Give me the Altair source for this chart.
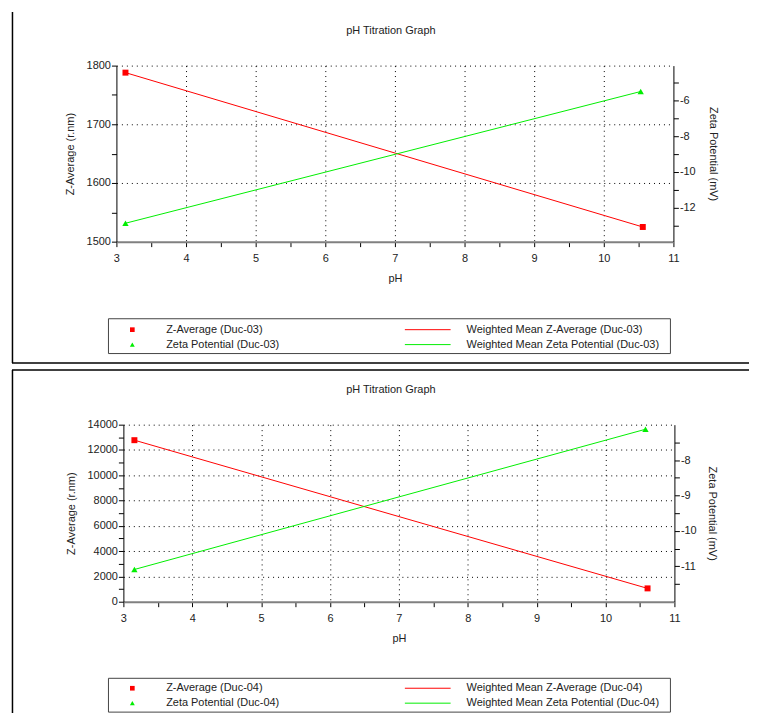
import altair as alt
import pandas as pd

# ---------------- data ----------------
series_names = ["Z-Average", "Zeta Potential"]
ph_ticks = [3, 3.5, 4, 4.5, 5, 5.5, 6, 6.5, 7, 7.5, 8, 8.5, 9, 9.5, 10, 10.5, 11]
chart_title = "pH Titration Graph"

# Duc-03
d03_z_ph = [3.13, 10.56]
d03_z = [1788, 1525]
d03_zeta_ph = [3.13, 10.53]
d03_zeta = [-12.87, -5.5]
d03_z_ticks = [1500, 1550, 1600, 1650, 1700, 1750, 1800]
d03_zeta_ticks = [-13, -12, -11, -10, -9, -8, -7, -6, -5]
d03_legend = ["Z-Average (Duc-03)", "Zeta Potential (Duc-03)",
              "Weighted Mean Z-Average (Duc-03)", "Weighted Mean Zeta Potential (Duc-03)"]

# Duc-04
d04_z_ph = [3.16, 10.61]
d04_z = [12773, 1054]
d04_zeta_ph = [3.16, 10.58]
d04_zeta = [-11.09, -7.13]
d04_z_ticks = [0, 1000, 2000, 3000, 4000, 5000, 6000, 7000, 8000, 9000, 10000,
               11000, 12000, 13000, 14000]
d04_zeta_ticks = [-11.5, -11, -10.5, -10, -9.5, -9, -8.5, -8, -7.5]
d04_legend = ["Z-Average (Duc-04)", "Zeta Potential (Duc-04)",
              "Weighted Mean Z-Average (Duc-04)", "Weighted Mean Zeta Potential (Duc-04)"]

# ---------------- style ----------------
FONT = "Liberation Sans"
TXT = "#222222"
RED = "#ff0000"
GREEN = "#00ee00"
cscale = alt.Scale(domain=series_names, range=[RED, GREEN])
one = pd.DataFrame({"k": [0]})


def ax(**kw):
    base = dict(labelFont=FONT, labelFontSize=11, labelColor=TXT, titleFont=FONT,
                titleFontSize=11, titleFontWeight="normal", titleColor=TXT,
                tickColor="#000000", tickSize=5, tickWidth=1, labelOverlap=False,
                labelFlush=False)
    base.update(kw)
    return alt.Axis(**base)


def panel(z_ph, z_val, zeta_ph, zeta_val, z_dom, z_ticks, z_major, zeta_dom, zeta_ticks,
          zeta_major, labels, W, H, xr, left_off, leg, frame, title_dx, right_pad):
    zdf = pd.DataFrame({"pH": z_ph, "v": z_val, "series": series_names[0]})
    tdf = pd.DataFrame({"pH": zeta_ph, "v": zeta_val, "series": series_names[1]})
    col = alt.Color("series:N", scale=cscale, legend=None)

    xaxis = ax(values=ph_ticks, title="pH",
               labelExpr="datum.value % 1 == 0 ? '' + datum.value : ''",
               grid=True, gridColor="#000000", gridDash=[1, 4], gridWidth=1,
               gridOpacity={"condition": {"test": "datum.value % 1 != 0 || datum.value == 3 || datum.value == 11", "value": 0}, "value": 1},
               domainColor="#808080", domainWidth=2, labelPadding=6, titlePadding=9)
    xs = alt.Scale(domain=[3, 11], range=xr, nice=False, zero=False)
    x_main = alt.X("pH:Q", scale=xs, axis=xaxis)
    x_hidden = alt.X("pH:Q", scale=xs, axis=None)

    zaxis = ax(values=z_ticks, title="Z-Average (r.nm)", offset=left_off,
               labelExpr=f"datum.value % {z_major} == 0 ? '' + datum.value : ''",
               grid=True, gridColor="#000000", gridDash=[1, 4], gridWidth=1,
               gridOpacity={"condition": {"test": f"datum.value % {z_major} != 0 || datum.value == {z_dom[0]}", "value": 0}, "value": 1},
               domainColor="#000000", domainWidth=1, labelPadding=1, titlePadding=11)
    y_z = alt.Y("v:Q", scale=alt.Scale(domain=z_dom, nice=False, zero=False), axis=zaxis)

    taxis = ax(values=zeta_ticks, title="Zeta Potential (mV)", orient="right",
               labelExpr=f"datum.value % {zeta_major} == 0 ? '' + datum.value : ''",
               grid=False, domainColor="#000000", domainWidth=1, labelPadding=1,
               titlePadding=right_pad)
    y_t = alt.Y("v:Q", scale=alt.Scale(domain=zeta_dom, nice=False, zero=False), axis=taxis)

    z_layer = alt.layer(
        alt.Chart(zdf).mark_line(strokeWidth=1).encode(x=x_main, y=y_z, color=col),
        alt.Chart(zdf).mark_point(shape="square", filled=True, size=36, opacity=1).encode(x=x_main, y=y_z, color=col),
    )
    t_layer = alt.layer(
        alt.Chart(tdf).mark_line(strokeWidth=1).encode(x=x_hidden, y=y_t, color=col),
        alt.Chart(tdf).mark_point(shape="triangle-up", filled=True, size=40, opacity=1).encode(x=x_hidden, y=y_t, color=col),
    )

    # legend
    lx0, lx1, ly0, ly1, bx0, bx1, by0, by1 = leg
    ldf = pd.DataFrame({"label": labels, "col": [0, 0, 1, 1], "row": [0, 1, 0, 1],
                        "series": series_names * 2,
                        "kind": ["square", "triangle", "line", "line"]})
    lx = alt.X("col:Q", scale=alt.Scale(domain=[0, 1], range=[lx0, lx1], nice=False, zero=False), axis=None)
    ly = alt.Y("row:Q", scale=alt.Scale(domain=[0, 1], range=[ly0, ly1], nice=False, zero=False), axis=None)
    lbase = alt.Chart(ldf).encode(x=lx, y=ly)
    legend = alt.layer(
        alt.Chart(one).mark_rect(fill="white", stroke="#444444", strokeWidth=1).encode(
            x=alt.value(bx0), x2=alt.value(bx1), y=alt.value(by0), y2=alt.value(by1)),
        lbase.transform_filter("datum.kind == 'square'").mark_point(
            shape="square", filled=True, size=22, opacity=1).encode(color=col),
        lbase.transform_filter("datum.kind == 'triangle'").mark_point(
            shape="triangle-up", filled=True, size=24, opacity=1).encode(color=col),
        lbase.transform_filter("datum.kind == 'line'").mark_rule(
            strokeWidth=1, xOffset=-23, x2Offset=23).encode(x2=alt.X2("col"), color=col),
        lbase.transform_filter("datum.col == 0").mark_text(
            align="left", baseline="middle", dx=34, font=FONT, fontSize=11, color=TXT).encode(text="label:N"),
        lbase.transform_filter("datum.col == 1").mark_text(
            align="left", baseline="middle", dx=39, font=FONT, fontSize=11, color=TXT).encode(text="label:N"),
    )

    title = alt.Chart(one).mark_text(
        align="center", baseline="middle", font=FONT, fontSize=11, color=TXT
    ).encode(x=alt.value(W / 2 + title_dx), y=alt.value(-35), text=alt.value(chart_title))

    frames = []
    for (x1, x2, y1, y2) in frame:
        enc = dict(x=alt.value(x1), y=alt.value(y1))
        if x2 is not None:
            enc["x2"] = alt.value(x2)
        if y2 is not None:
            enc["y2"] = alt.value(y2)
        frames.append(alt.Chart(one).mark_rule(color="#000000", strokeWidth=1.5).encode(**enc))

    return alt.layer(z_layer, t_layer, legend, title, *frames).resolve_scale(
        x="independent", y="independent"
    ).properties(width=W, height=H)


# panel 1: group origin aligned with panel 2 (x=122); its data area starts 7px further left
p1 = panel(d03_z_ph, d03_z, d03_zeta_ph, d03_zeta, [1500, 1800], d03_z_ticks, 100,
           [-13.9, -4.05], d03_zeta_ticks, 2, d03_legend, 553, 177, [-7, 553], 7,
           (9, 306, 265.5, 280.5, -15, 550, 254.5, 289.5),
           [(-111.5, None, -54, 299), (-112, 629, 299, None)], -7.5, 12)
p2 = panel(d04_z_ph, d04_z, d04_zeta_ph, d04_zeta, [0, 14000], d04_z_ticks, 2000,
           [-12, -7], d04_zeta_ticks, 1, d04_legend, 554, 178, [0, 554], 0,
           (9, 306, 265, 280, -15, 550, 255, 289),
           [(-111.5, None, -55, 290), (-112, 629, -55, None)], -8, 10)

chart = alt.vconcat(p1, p2, spacing=3).properties(
    padding={"left": 2, "top": 0, "right": 0, "bottom": 0},
).configure(font=FONT).configure_view(stroke="transparent")

chart.save("out.html", embed_options={"renderer": "svg", "actions": False})
